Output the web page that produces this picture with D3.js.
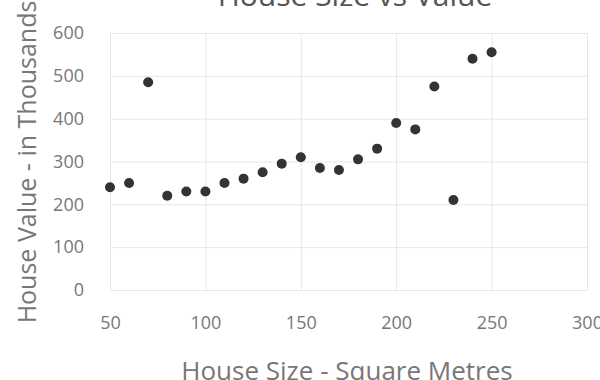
<!DOCTYPE html>
<html>
<head>
<meta charset="utf-8">
<script src="https://cdn.jsdelivr.net/npm/d3@7"></script>
<style>
  body { margin: 0; background: #fff; }
  text { font-family: "Open Sans", "DejaVu Sans", sans-serif; }
</style>
</head>
<body>
<div id="chart"></div>
<script>
// house sizes (square metres) and values (thousands)
const sizes = [50, 60, 70, 80, 90, 100, 110, 120, 130, 140, 150, 160, 170, 180, 190, 200, 210, 220, 230, 240, 250];
const values = [240, 250, 485, 220, 230, 230, 250, 260, 275, 295, 310, 285, 280, 305, 330, 390, 375, 475, 210, 540, 555];
const xTicks = [50, 100, 150, 200, 250, 300];
const yTicks = [0, 100, 200, 300, 400, 500, 600];

const width = 600, height = 380;
const margin = { top: 33, right: 13, bottom: 90, left: 110 };

const svg = d3.select('#chart').append('svg')
  .attr('width', width)
  .attr('height', height);

const x = d3.scaleLinear().domain([50, 300]).range([margin.left, width - margin.right]);
const y = d3.scaleLinear().domain([0, 600]).range([height - margin.bottom, margin.top]);

// grid
svg.append('g')
  .attr('transform', `translate(0, ${height - margin.bottom})`)
  .call(d3.axisBottom(x).tickValues(xTicks).tickSize(-(height - margin.bottom - margin.top)).tickPadding(26))
  .call(g => g.select('.domain').remove())
  .call(g => g.selectAll('line').attr('stroke', '#e6e6e6'))
  .call(g => g.selectAll('text').attr('fill', '#777').style('font-size', '18px'));

svg.append('g')
  .attr('transform', `translate(${margin.left}, 0)`)
  .call(d3.axisLeft(y).tickValues(yTicks).tickSize(-(width - margin.left - margin.right)).tickPadding(26))
  .call(g => g.select('.domain').remove())
  .call(g => g.selectAll('line').attr('stroke', '#e6e6e6'))
  .call(g => g.selectAll('text').attr('fill', '#777').style('font-size', '18px'));

// points
svg.append('g')
  .selectAll('circle')
  .data(sizes.map((s, i) => [s, values[i]]))
  .join('circle')
  .attr('cx', d => x(d[0]))
  .attr('cy', d => y(d[1]))
  .attr('r', 5)
  .attr('fill', '#333');

// title (partly above the frame)
svg.append('text')
  .attr('x', 355)
  .attr('y', 6)
  .attr('text-anchor', 'middle')
  .attr('fill', '#555')
  .style('font-size', '30px')
  .text('House Size vs Value');

// axis labels
svg.append('text')
  .attr('x', 347)
  .attr('y', 380)
  .attr('text-anchor', 'middle')
  .attr('fill', '#777')
  .style('font-size', '26px')
  .text('House Size - Square Metres');

svg.append('text')
  .attr('transform', 'translate(36, 162) rotate(-90)')
  .attr('text-anchor', 'middle')
  .attr('fill', '#777')
  .style('font-size', '25px')
  .text('House Value - in Thousands');
</script>
</body>
</html>
